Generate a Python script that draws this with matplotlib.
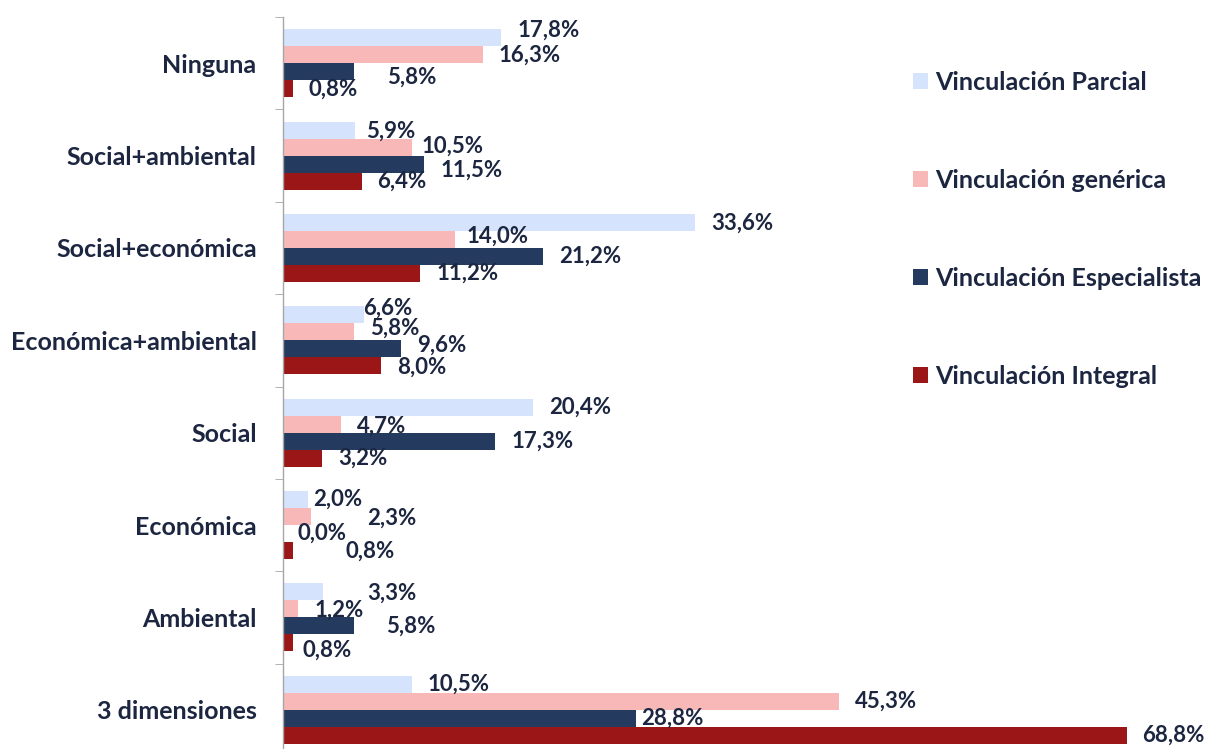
import matplotlib
matplotlib.use("Agg")
import matplotlib.pyplot as plt
from matplotlib.patches import Patch
import numpy as np

categories = ["Ninguna", "Social+ambiental", "Social+económica", "Económica+ambiental",
              "Social", "Económica", "Ambiental", "3 dimensiones"]
series_names = ["Vinculación Parcial", "Vinculación genérica",
                "Vinculación Especialista", "Vinculación Integral"]
parcial = [17.8, 5.9, 33.6, 6.6, 20.4, 2.0, 3.3, 10.5]
generica = [16.3, 10.5, 14.0, 5.8, 4.7, 2.3, 1.2, 45.3]
especialista = [5.8, 11.5, 21.2, 9.6, 17.3, 0.0, 5.8, 28.8]
integral = [0.8, 6.4, 11.2, 8.0, 3.2, 0.8, 0.8, 68.8]
series = [parcial, generica, especialista, integral]
colors = ["#D6E3FC", "#F7B8B7", "#243A5E", "#9A1617"]
text_color = "#1C2640"

# label placement tweaks in pixels (style only), per series then per category
label_dx_px = [
    [0, -5, 0, -17, 0, -10, 28, 0],
    [0, -6, -4, 0, 0, 40, 1, 0],
    [17, 0, 0, 0, 0, -1, 16, -11],
    [0, 0, 0, 0, 0, 37, -6, -1],
]
label_dy_px = [  # positive = downwards
    [-7, 1, 1, -7, 0, 0, 1, 0],
    [1, -1, -3, -4, 2, 2, 1, 0],
    [6, 6, 0, -4, 0, 0, 0, 0],
    [1, 0, 0, 1, 0, 1, 7, 0],
]

plt.rcParams['font.family'] = ['Lato', 'DejaVu Sans']

W, H = 1205, 749
fig = plt.figure(figsize=(W / 100, H / 100), dpi=100)
left_px, right_px, top_px, bot_px = 283, 1205, 17, 756
ax = fig.add_axes([left_px / W, (H - bot_px) / H, (right_px - left_px) / W, (bot_px - top_px) / H])

px_per_unit = (1127 - 283) / 68.8
ax.set_xlim(0, (right_px - left_px) / px_per_unit)
n = len(categories)
ax.set_ylim(n, 0)

bar_h = 17 / 92.4
offsets = [-1.5, -0.5, 0.5, 1.5]
y = np.arange(n) + 0.5
for vals, col, off, dxs, dys in zip(series, colors, offsets, label_dx_px, label_dy_px):
    yy = y + off * bar_h
    ax.barh(yy, vals, height=bar_h, color=col, edgecolor='none')
    for yv, v, dx, dy in zip(yy, vals, dxs, dys):
        lbl = f"{v:.1f}".replace('.', ',') + '%'
        ax.annotate(lbl, (v, yv), xytext=(16 + dx, -dy), textcoords='offset pixels',
                    ha='left', va='center', fontsize=16, fontweight='bold',
                    color=text_color, annotation_clip=False)

for s in ['top', 'right', 'bottom']:
    ax.spines[s].set_visible(False)
ax.spines['left'].set_color('#A6A6A6')
ax.spines['left'].set_linewidth(1.0)
ax.set_xticks([])
ax.set_yticks(y)
ax.set_yticklabels(categories, fontsize=18, fontweight='bold', color=text_color)
ax.tick_params(axis='y', which='major', length=0, pad=19)
ax.set_yticks(np.arange(n + 1), minor=True)
ax.tick_params(axis='y', which='minor', length=6, color='#A6A6A6', direction='out')

handles = [Patch(facecolor=c, edgecolor='none') for c in colors]
fig.legend(handles, series_names, loc='upper left', bbox_to_anchor=(913 / W, 1 - 71 / H),
           frameon=False, prop={'size': 18, 'weight': 'bold'}, labelcolor=text_color,
           handlelength=0.6, handleheight=0.6, handletextpad=0.28, labelspacing=3.0,
           borderaxespad=0, borderpad=0)

fig.savefig("out.png", dpi=100)
